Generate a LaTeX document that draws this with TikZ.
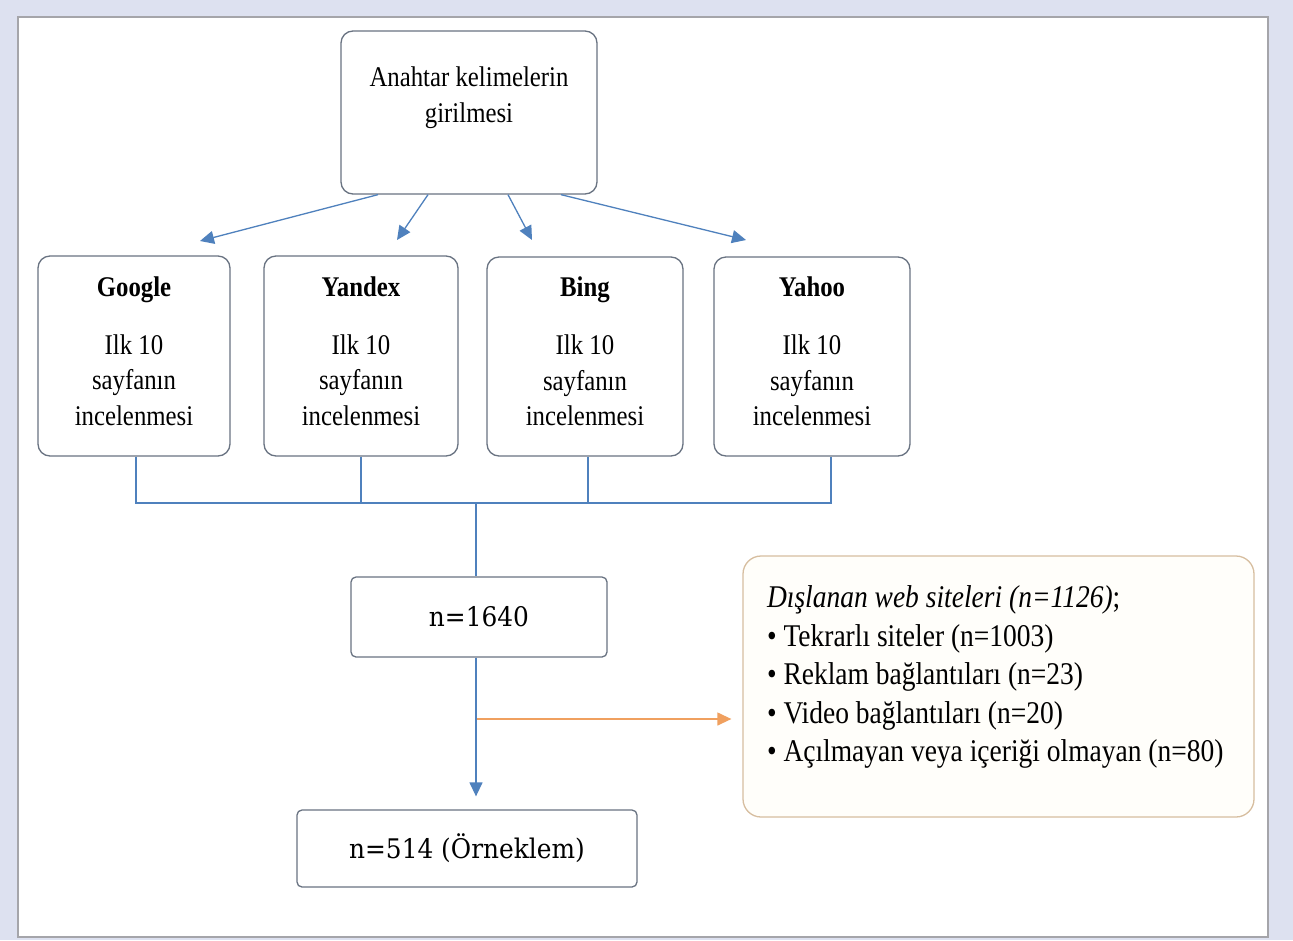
\documentclass[tikz,border=0pt]{standalone}
\usepackage{fontspec}
\setmainfont[FakeStretch=0.87]{Liberation Serif}
\newfontfamily\slab[FakeStretch=0.92]{DejaVu Serif}
\usetikzlibrary{arrows.meta,calc}
\definecolor{bgc}{RGB}{221,225,240}
\definecolor{panelc}{RGB}{165,165,170}
\definecolor{boxc}{RGB}{105,115,130}
\definecolor{bluec}{RGB}{79,129,189}
\definecolor{orangec}{RGB}{240,160,95}
\definecolor{tanc}{RGB}{215,190,160}
\definecolor{creamc}{RGB}{255,254,250}
\tikzset{
  rbox/.style={draw=boxc, line width=1.3pt, rounded corners=12pt, fill=white, align=center, inner sep=0pt,
    font=\fontsize{28.5}{35.5}\selectfont},
  nbox/.style={draw=boxc, line width=1.3pt, rounded corners=5pt, fill=white, align=center, inner sep=0pt,
    font=\slab\fontsize{27}{33}\selectfont},
  exbox/.style={draw=tanc, line width=1.3pt, rounded corners=18pt, fill=creamc, inner xsep=24pt, inner ysep=18pt},
  conn/.style={draw=bluec, line width=1.3pt},
  arr/.style={draw=bluec, line width=1.3pt, -{Triangle[length=14pt,width=13pt]}, bluec},
  oarr/.style={draw=orangec, line width=1.3pt, -{Triangle[length=14pt,width=13pt]}, orangec}
}
\begin{document}
\begin{tikzpicture}[x=1pt,y=-1pt]
\useasboundingbox (0,0) rectangle (1293,940);
\fill[bgc] (0,0) rectangle (1293,940);
\draw[panelc, line width=1.2pt, fill=white] (18,17) rectangle (1268,937);

\node[rbox, minimum width=256pt, minimum height=163pt] (top) at (469,112.5)
  {Anahtar kelimelerin\\girilmesi\\\mbox{}};

\node[rbox, minimum width=192pt, minimum height=200pt] (google) at (134,356)
  {{\bfseries Google}\\[22.5pt]Ilk 10\\sayfanın\\incelenmesi\\[-25pt]\mbox{}};
\node[rbox, minimum width=194pt, minimum height=200pt] (yandex) at (361,356)
  {{\bfseries Yandex}\\[22.5pt]Ilk 10\\sayfanın\\incelenmesi\\[-25pt]\mbox{}};
\node[rbox, minimum width=196pt, minimum height=199pt] (bing) at (585,356.5)
  {{\bfseries Bing}\\[22.5pt]Ilk 10\\sayfanın\\incelenmesi\\[-25pt]\mbox{}};
\node[rbox, minimum width=196pt, minimum height=199pt] (yahoo) at (812,356.5)
  {{\bfseries Yahoo}\\[22.5pt]Ilk 10\\sayfanın\\incelenmesi\\[-25pt]\mbox{}};

\node[nbox, minimum width=256pt, minimum height=80pt] (n1640) at (479,617) {n=1640};
\node[nbox, minimum width=340pt, minimum height=77pt] (n514) at (467,848.5) {n=514 (Örneklem)};

\node[exbox] (excl) at (998.5,686.5)
  {\begin{minipage}[c][225pt][t]{463pt}\fontsize{31.6}{38.5}\selectfont
   \vspace*{12pt}%
   \textit{Dışlanan web siteleri (n=1126)};\\
   • Tekrarlı siteler (n=1003)\\
   • Reklam bağlantıları (n=23)\\
   • Video bağlantıları (n=20)\\
   • Açılmayan veya içeriği olmayan (n=80)
   \end{minipage}};

% arrows from the top box
\coordinate (t1) at (200,241);
\coordinate (t2) at (397,240);
\coordinate (t3) at (532,240);
\coordinate (t4) at (746,240);
\draw[arr] ([xshift=-91pt]top.south) -- (t1);
\draw[arr] ([xshift=-41pt]top.south) -- (t2);
\draw[arr] ([xshift=39pt]top.south) -- (t3);
\draw[arr] ([xshift=92pt]top.south) -- (t4);

% merging connectors
\coordinate (jL) at (136,503);
\coordinate (jR) at (831,503);
\coordinate (join) at (476,503);
\draw[conn] ([xshift=2pt]google.south) -- (jL) -- (jR) -- ([xshift=19pt]yahoo.south);
\draw[conn] (yandex.south) -- (yandex.south |- jL);
\draw[conn] ([xshift=3pt]bing.south) -- ([xshift=3pt]bing.south |- jL);
\draw[conn] (join) -- ([xshift=-3pt]n1640.north);

% down to the sample
\draw[arr, shorten >=13pt] ([xshift=-3pt]n1640.south) -- ([xshift=-3pt]n1640.south |- n514.north);
\coordinate (branch) at (477,719);
\draw[oarr, shorten >=11pt] (branch) -- (branch -| excl.west);
\end{tikzpicture}
\end{document}
